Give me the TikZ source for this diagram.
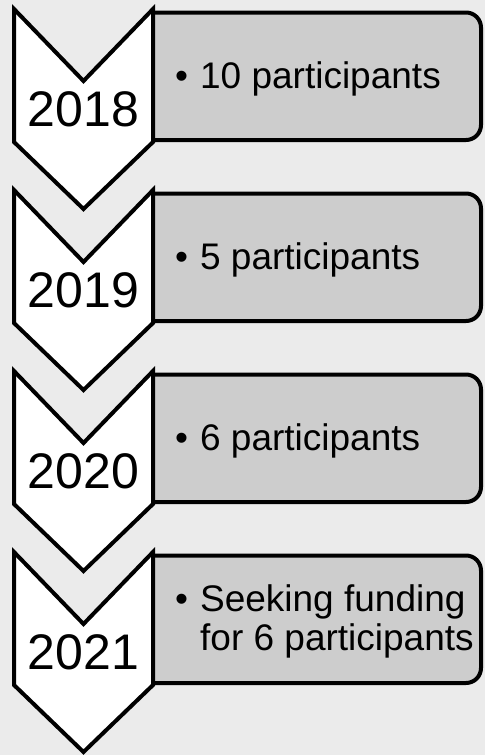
\documentclass[tikz,border=0pt]{standalone}
\usepackage{fontspec}
\setmainfont{Liberation Sans}
\usepackage{xcolor}
\usepackage{tikz}
\usetikzlibrary{positioning}
\definecolor{bggray}{RGB}{235,235,235}
\definecolor{boxgray}{RGB}{205,205,205}
\newcommand{\bulletitem}[1]{\begin{tabular}{@{}l@{\hspace{12pt}}l@{}}\textbullet & #1\end{tabular}}
\tikzset{
  chevron/.style={draw=black, fill=white, line width=4pt, line join=miter},
  itembox/.style={draw=black, fill=boxgray, line width=4pt, rounded corners=15pt},
  yeartext/.style={font=\fontsize{50}{50}\selectfont, anchor=base, inner sep=0pt},
  itemtext/.style={font=\fontsize{37}{38.5}\selectfont, anchor=west, inner sep=0pt}
}

\begin{document}
\begin{tikzpicture}[x=1pt,y=-1pt]
\fill[bggray] (0,0) rectangle (485,755);
\useasboundingbox (0,0) rectangle (485,755);
\foreach \yr/\txt [count=\i from 0] in {2018/{10 participants}, 2019/{5 participants}, 2020/{6 participants}, 2021/{Seeking funding\\ & for 6 participants}} {
  \pgfmathsetmacro{\y}{9+181*\i}
  % box behind, left edge hidden under the chevron
  \draw[itembox] (153,\y+131) -- (481,\y+131) -- (481,\y+3.5) -- (153,\y+3.5);
  \draw[chevron] (14,\y) -- (83.5,\y+72) -- (153,\y) -- (153,\y+133) -- (83.5,\y+200) -- (14,\y+133) -- cycle;
  \node[yeartext] (year\yr) at (83.5,\y+117) {\yr};
  \node[itemtext] (item\yr) at (175,\y+71.3) {\bulletitem{\txt}};
}
\end{tikzpicture}
\end{document}
